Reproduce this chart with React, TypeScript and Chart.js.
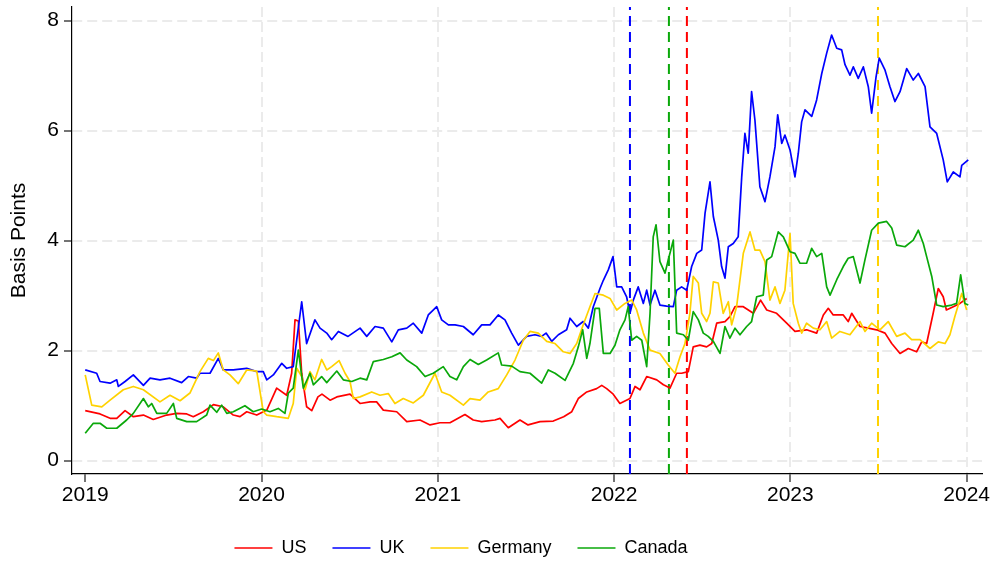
import React, { useEffect, useRef } from "react";
import { Chart, registerables } from "chart.js";

Chart.register(...registerables);

// ---------------- data ----------------
const SERIES_NAMES = ["US", "UK", "Germany", "Canada"];
const X_TICKS = [2019, 2020, 2021, 2022, 2023, 2024];
const Y_TICKS = [0, 2, 4, 6, 8];
const Y_TITLE = "Basis Points";

// [decimal year, basis points]
const US: [number, number][] = [
  [2019.000,0.91],[2019.084,0.85],[2019.141,0.77],[2019.179,0.77],[2019.226,0.91],[2019.273,0.80],[2019.330,0.83],[2019.386,0.75],
  [2019.462,0.83],[2019.519,0.86],[2019.576,0.85],[2019.613,0.80],[2019.670,0.89],[2019.727,1.02],[2019.783,0.98],[2019.840,0.83],
  [2019.878,0.80],[2019.916,0.89],[2019.973,0.83],[2020.030,0.92],[2020.086,1.32],[2020.143,1.19],[2020.171,1.59],[2020.190,2.56],
  [2020.209,2.54],[2020.228,1.59],[2020.256,0.98],[2020.285,0.91],[2020.320,1.16],[2020.343,1.21],[2020.389,1.10],[2020.427,1.16],
  [2020.502,1.21],[2020.559,1.04],[2020.616,1.07],[2020.653,1.07],[2020.691,0.92],[2020.767,0.89],[2020.824,0.71],[2020.899,0.74],
  [2020.956,0.65],[2021.012,0.69],[2021.069,0.69],[2021.154,0.84],[2021.201,0.74],[2021.249,0.71],[2021.324,0.74],[2021.353,0.77],
  [2021.400,0.60],[2021.466,0.74],[2021.512,0.65],[2021.580,0.71],[2021.655,0.72],[2021.714,0.80],[2021.760,0.89],[2021.797,1.13],
  [2021.845,1.25],[2021.901,1.31],[2021.930,1.37],[2021.958,1.31],[2021.995,1.21],[2022.033,1.04],[2022.090,1.13],[2022.119,1.35],
  [2022.147,1.29],[2022.185,1.53],[2022.242,1.47],[2022.280,1.38],[2022.317,1.32],[2022.355,1.59],[2022.383,1.59],[2022.421,1.62],
  [2022.449,2.07],[2022.487,2.10],[2022.525,2.07],[2022.554,2.13],[2022.582,2.50],[2022.629,2.53],[2022.657,2.62],[2022.686,2.80],
  [2022.733,2.80],[2022.790,2.68],[2022.831,2.92],[2022.866,2.74],[2022.922,2.68],[2022.979,2.50],[2023.026,2.35],[2023.092,2.38],
  [2023.149,2.32],[2023.187,2.65],[2023.215,2.77],[2023.243,2.65],[2023.300,2.65],[2023.328,2.53],[2023.348,2.68],[2023.395,2.44],
  [2023.442,2.41],[2023.489,2.38],[2023.537,2.32],[2023.575,2.13],[2023.622,1.95],[2023.669,2.04],[2023.716,1.98],[2023.745,2.16],
  [2023.773,2.13],[2023.810,2.68],[2023.839,3.13],[2023.867,2.98],[2023.885,2.74],[2023.924,2.80],[2023.962,2.86],[2024.000,2.95],
];

const UK: [number, number][] = [
  [2019.000,1.65],[2019.065,1.59],[2019.084,1.44],[2019.141,1.41],[2019.179,1.47],[2019.188,1.35],[2019.226,1.44],[2019.273,1.56],
  [2019.330,1.37],[2019.368,1.50],[2019.424,1.47],[2019.481,1.50],[2019.547,1.42],[2019.585,1.53],[2019.632,1.50],[2019.651,1.59],
  [2019.708,1.59],[2019.755,1.86],[2019.783,1.65],[2019.840,1.65],[2019.916,1.68],[2019.973,1.62],[2020.010,1.62],[2020.030,1.47],
  [2020.067,1.56],[2020.115,1.77],[2020.143,1.68],[2020.180,1.71],[2020.228,2.89],[2020.256,2.13],[2020.303,2.56],[2020.332,2.41],
  [2020.370,2.32],[2020.398,2.20],[2020.436,2.35],[2020.491,2.26],[2020.559,2.41],[2020.597,2.26],[2020.644,2.44],[2020.691,2.41],
  [2020.739,2.16],[2020.776,2.38],[2020.824,2.41],[2020.861,2.50],[2020.909,2.32],[2020.946,2.65],[2020.994,2.80],[2021.022,2.56],
  [2021.060,2.47],[2021.098,2.47],[2021.145,2.44],[2021.201,2.29],[2021.249,2.47],[2021.296,2.47],[2021.343,2.65],[2021.381,2.56],
  [2021.419,2.32],[2021.457,2.10],[2021.504,2.26],[2021.551,2.29],[2021.589,2.26],[2021.614,2.32],[2021.646,2.17],[2021.684,2.29],
  [2021.731,2.38],[2021.750,2.59],[2021.788,2.44],[2021.825,2.53],[2021.854,2.41],[2021.882,2.80],[2021.920,3.13],[2021.939,3.28],
  [2021.967,3.47],[2021.994,3.71],[2022.015,3.16],[2022.043,3.16],[2022.071,2.98],[2022.090,2.68],[2022.109,2.92],[2022.137,3.16],
  [2022.166,2.86],[2022.185,3.10],[2022.204,2.83],[2022.232,3.10],[2022.260,2.83],[2022.298,2.81],[2022.336,2.80],[2022.355,3.10],
  [2022.383,3.16],[2022.412,3.10],[2022.440,3.53],[2022.469,3.77],[2022.497,3.83],[2022.516,4.50],[2022.544,5.07],[2022.563,4.44],
  [2022.591,4.01],[2022.610,3.53],[2022.629,3.32],[2022.648,3.89],[2022.676,3.95],[2022.704,4.07],[2022.724,5.16],[2022.742,5.95],
  [2022.761,5.59],[2022.780,6.71],[2022.799,6.19],[2022.827,4.98],[2022.856,4.71],[2022.884,5.16],[2022.913,5.71],[2022.928,6.29],
  [2022.951,5.77],[2022.969,5.92],[2022.998,5.65],[2023.026,5.16],[2023.045,5.59],[2023.064,6.16],[2023.083,6.38],[2023.121,6.26],
  [2023.149,6.56],[2023.178,7.04],[2023.206,7.41],[2023.234,7.74],[2023.263,7.50],[2023.291,7.47],[2023.310,7.20],[2023.338,7.01],
  [2023.357,7.16],[2023.385,6.95],[2023.414,7.16],[2023.442,6.80],[2023.461,6.32],[2023.486,6.98],[2023.504,7.32],[2023.537,7.10],
  [2023.565,6.80],[2023.593,6.53],[2023.622,6.71],[2023.660,7.13],[2023.697,6.92],[2023.726,7.04],[2023.764,6.80],[2023.792,6.07],
  [2023.830,5.95],[2023.867,5.47],[2023.890,5.07],[2023.924,5.25],[2023.962,5.16],[2023.972,5.37],[2024.009,5.47],
];

const GERMANY: [number, number][] = [
  [2019.000,1.56],[2019.037,1.01],[2019.094,0.98],[2019.141,1.10],[2019.216,1.29],[2019.273,1.35],[2019.330,1.29],[2019.424,1.07],
  [2019.481,1.19],[2019.538,1.09],[2019.594,1.23],[2019.651,1.62],[2019.698,1.86],[2019.727,1.82],[2019.755,1.96],[2019.783,1.65],
  [2019.821,1.56],[2019.868,1.40],[2019.916,1.65],[2019.973,1.63],[2020.010,0.89],[2020.030,0.83],[2020.086,0.80],[2020.152,0.77],
  [2020.180,1.04],[2020.200,1.68],[2020.228,1.53],[2020.247,1.29],[2020.275,1.62],[2020.303,1.47],[2020.341,1.84],[2020.370,1.65],
  [2020.398,1.71],[2020.440,1.82],[2020.474,1.59],[2020.502,1.44],[2020.521,1.13],[2020.559,1.16],[2020.625,1.25],[2020.672,1.19],
  [2020.719,1.22],[2020.757,1.04],[2020.804,1.13],[2020.861,1.05],[2020.918,1.19],[2020.984,1.59],[2021.022,1.25],[2021.069,1.19],
  [2021.145,1.01],[2021.183,1.13],[2021.239,1.10],[2021.286,1.25],[2021.343,1.31],[2021.391,1.56],[2021.438,1.83],[2021.485,2.19],
  [2021.523,2.35],[2021.570,2.32],[2021.618,2.17],[2021.665,2.13],[2021.712,1.98],[2021.750,1.95],[2021.788,2.13],[2021.825,2.47],
  [2021.863,2.80],[2021.892,3.04],[2021.939,3.01],[2021.977,2.95],[2022.015,2.74],[2022.062,2.86],[2022.100,2.92],[2022.128,2.74],
  [2022.166,2.32],[2022.204,2.01],[2022.260,1.95],[2022.307,1.74],[2022.345,1.59],[2022.374,1.89],[2022.402,2.13],[2022.430,2.68],
  [2022.449,3.35],[2022.478,3.23],[2022.497,2.68],[2022.525,2.53],[2022.544,2.68],[2022.563,3.25],[2022.591,3.23],[2022.619,2.68],
  [2022.648,2.89],[2022.667,2.47],[2022.695,2.80],[2022.733,3.77],[2022.771,4.16],[2022.799,3.83],[2022.827,3.83],[2022.856,3.62],
  [2022.884,2.92],[2022.913,3.16],[2022.941,2.86],[2022.969,3.10],[2022.998,4.13],[2023.016,2.86],[2023.045,2.50],[2023.064,2.32],
  [2023.092,2.50],[2023.130,2.41],[2023.168,2.38],[2023.206,2.53],[2023.234,2.23],[2023.281,2.35],[2023.338,2.29],[2023.395,2.53],
  [2023.423,2.35],[2023.461,2.50],[2023.508,2.38],[2023.555,2.53],[2023.603,2.26],[2023.650,2.32],[2023.688,2.20],[2023.735,2.20],
  [2023.792,2.04],[2023.839,2.16],[2023.877,2.13],[2023.905,2.29],[2023.933,2.62],[2023.972,3.04],[2024.000,2.74],
];

const CANADA: [number, number][] = [
  [2019.000,0.50],[2019.046,0.68],[2019.084,0.68],[2019.122,0.59],[2019.179,0.59],[2019.235,0.74],[2019.273,0.86],[2019.330,1.13],
  [2019.358,0.98],[2019.377,1.04],[2019.406,0.86],[2019.462,0.86],[2019.500,1.04],[2019.519,0.77],[2019.576,0.71],[2019.632,0.71],
  [2019.689,0.83],[2019.708,1.01],[2019.746,0.88],[2019.774,1.01],[2019.803,0.86],[2019.840,0.89],[2019.906,1.00],[2019.953,0.89],
  [2020.001,0.94],[2020.048,0.89],[2020.095,0.95],[2020.133,0.86],[2020.152,1.23],[2020.180,1.32],[2020.209,2.01],[2020.237,1.32],
  [2020.275,1.59],[2020.294,1.38],[2020.341,1.53],[2020.370,1.42],[2020.427,1.63],[2020.464,1.47],[2020.512,1.44],[2020.559,1.50],
  [2020.597,1.47],[2020.634,1.80],[2020.691,1.84],[2020.739,1.89],[2020.786,1.96],[2020.824,1.83],[2020.880,1.71],[2020.928,1.53],
  [2020.974,1.59],[2021.031,1.71],[2021.069,1.53],[2021.107,1.47],[2021.145,1.71],[2021.183,1.84],[2021.230,1.75],[2021.277,1.83],
  [2021.343,1.96],[2021.362,1.74],[2021.419,1.72],[2021.466,1.62],[2021.523,1.59],[2021.589,1.41],[2021.627,1.65],[2021.665,1.59],
  [2021.722,1.46],[2021.769,1.77],[2021.797,2.07],[2021.822,2.38],[2021.845,1.86],[2021.863,2.13],[2021.892,2.77],[2021.916,2.77],
  [2021.939,1.95],[2021.977,1.95],[2022.005,2.10],[2022.033,2.38],[2022.062,2.56],[2022.080,2.80],[2022.100,2.19],[2022.128,2.26],
  [2022.157,2.19],[2022.185,1.71],[2022.204,2.68],[2022.222,4.07],[2022.238,4.29],[2022.260,3.62],[2022.289,3.41],[2022.307,3.65],
  [2022.336,4.01],[2022.355,2.32],[2022.393,2.29],[2022.421,2.19],[2022.449,2.71],[2022.478,2.56],[2022.506,2.32],[2022.534,2.26],
  [2022.563,2.17],[2022.601,1.95],[2022.629,2.44],[2022.657,2.23],[2022.686,2.41],[2022.714,2.29],[2022.752,2.44],[2022.780,2.53],
  [2022.809,2.98],[2022.846,3.01],[2022.866,3.65],[2022.894,3.71],[2022.931,4.16],[2022.960,4.07],[2022.998,3.80],[2023.026,3.77],
  [2023.054,3.59],[2023.092,3.59],[2023.121,3.86],[2023.149,3.71],[2023.178,3.77],[2023.206,3.16],[2023.225,3.01],[2023.263,3.29],
  [2023.300,3.53],[2023.328,3.68],[2023.357,3.71],[2023.395,3.23],[2023.423,3.65],[2023.461,4.19],[2023.499,4.32],[2023.546,4.35],
  [2023.575,4.23],[2023.603,3.92],[2023.650,3.89],[2023.697,4.01],[2023.726,4.19],[2023.754,3.95],[2023.773,3.71],[2023.802,3.35],
  [2023.830,2.83],[2023.867,2.80],[2023.915,2.83],[2023.943,2.86],[2023.966,3.38],[2023.990,2.86],[2024.009,2.83],
];

// vertical event markers: date and the series whose colour they take
const EVENT_DATES = [2022.090, 2022.311, 2022.413, 2023.497];
const EVENT_SERIES = ["UK", "Canada", "US", "Germany"];

// ---------------- styling ----------------
const X_MIN = 2018.925;
const X_MAX = 2024.087;
const Y_MIN = -0.242;
const Y_MAX = 8.249;

const COLORS: Record<string, string> = {
  US: "#ff0000",
  UK: "#0000ff",
  Germany: "#ffd200",
  Canada: "#0aa80a",
};
const GRID_COLOR = "#ebebeb";
const FONT_FAMILY = '"Liberation Sans", Arial, Helvetica, sans-serif';

const legendNudge = {
  id: "legendNudge",
  afterLayout(chart: any) {
    const l = chart.legend;
    if (!l) return;
    l.top += 4;
    l.bottom += 4;
    l.left -= 30;
    l.right -= 30;
  },
};

export default function App() {
  const canvasRef = useRef<HTMLCanvasElement | null>(null);

  useEffect(() => {
    const canvas = canvasRef.current;
    if (!canvas) return;

    const seriesRows = [US, UK, GERMANY, CANADA];
    const seriesDatasets = SERIES_NAMES.map((name, i) => ({
      type: "line" as const,
      label: name,
      data: seriesRows[i].map(([x, y]) => ({ x, y })),
      borderColor: COLORS[name],
      backgroundColor: COLORS[name],
      borderWidth: 1.7,
      pointRadius: 0,
      tension: 0,
      borderJoinStyle: "round" as const,
      order: 4 - i,
    }));
    const eventDatasets = EVENT_DATES.map((t, i) => ({
      type: "line" as const,
      label: "event-" + EVENT_SERIES[i],
      data: [
        { x: t, y: Y_MIN },
        { x: t, y: Y_MAX },
      ],
      borderColor: COLORS[EVENT_SERIES[i]],
      backgroundColor: COLORS[EVENT_SERIES[i]],
      borderWidth: 2,
      borderDash: [10, 6],
      pointRadius: 0,
      order: 10,
    }));

    const chart = new Chart(canvas, {
      type: "line",
      data: { datasets: [...seriesDatasets, ...eventDatasets] as any },
      options: {
        animation: false,
        responsive: false,
        devicePixelRatio: 1,
        layout: { padding: { left: 0, right: 9, top: 7, bottom: 0 } },
        plugins: {
          tooltip: { enabled: false },
          legend: {
            position: "bottom",
            labels: {
              usePointStyle: true,
              pointStyle: "line",
              pointStyleWidth: 38,
              padding: 26,
              color: "#000",
              font: { family: FONT_FAMILY, size: 18 },
              filter: (item: any) => item.datasetIndex < SERIES_NAMES.length,
              sort: (a: any, b: any) => a.datasetIndex - b.datasetIndex,
            },
          },
        },
        scales: {
          x: {
            type: "linear",
            min: X_MIN,
            max: X_MAX,
            afterBuildTicks: (s: any) => {
              s.ticks = X_TICKS.map((value) => ({ value }));
            },
            afterFit: (s: any) => {
              s.height = 35;
              s.paddingLeft = 0;
              s.paddingRight = 0;
            },
            ticks: {
              callback: (v: any) => String(v),
              color: "#000",
              font: { family: FONT_FAMILY, size: 21 },
              padding: 1,
              maxRotation: 0,
              autoSkip: false,
            },
            grid: {
              color: (ctx: any) =>
                ctx.tick && ctx.tick.value === X_TICKS[0] ? "rgba(0,0,0,0)" : GRID_COLOR,
              lineWidth: 2,
              tickColor: "#444",
              tickWidth: 1.5,
              tickLength: 8,
            },
            border: { display: true, color: "#000", width: 1.2, dash: [10, 5] },
          },
          y: {
            type: "linear",
            min: Y_MIN,
            max: Y_MAX,
            afterBuildTicks: (s: any) => {
              s.ticks = Y_TICKS.map((value) => ({ value }));
            },
            afterFit: (s: any) => {
              s.width = 72;
              s.paddingTop = 0;
              s.paddingBottom = 0;
            },
            ticks: {
              callback: (v: any) => String(v),
              color: "#000",
              font: { family: FONT_FAMILY, size: 21 },
              padding: 5,
              autoSkip: false,
            },
            grid: {
              color: GRID_COLOR,
              lineWidth: 2,
              tickColor: "#444",
              tickWidth: 1.5,
              tickLength: 8,
            },
            border: { display: true, color: "#000", width: 1.2, dash: [10, 5] },
            title: {
              display: true,
              text: Y_TITLE,
              color: "#000",
              font: { family: FONT_FAMILY, size: 21 },
              padding: { top: 7, bottom: 0 },
            },
          },
        },
      },
      plugins: [legendNudge],
    });

    return () => chart.destroy();
  }, []);

  return (
    <div style={{ position: "fixed", left: 0, top: 0, width: 991, height: 563, background: "#fff" }}>
      <canvas ref={canvasRef} width={991} height={563} style={{ width: 991, height: 563, display: "block" }} />
    </div>
  );
}
